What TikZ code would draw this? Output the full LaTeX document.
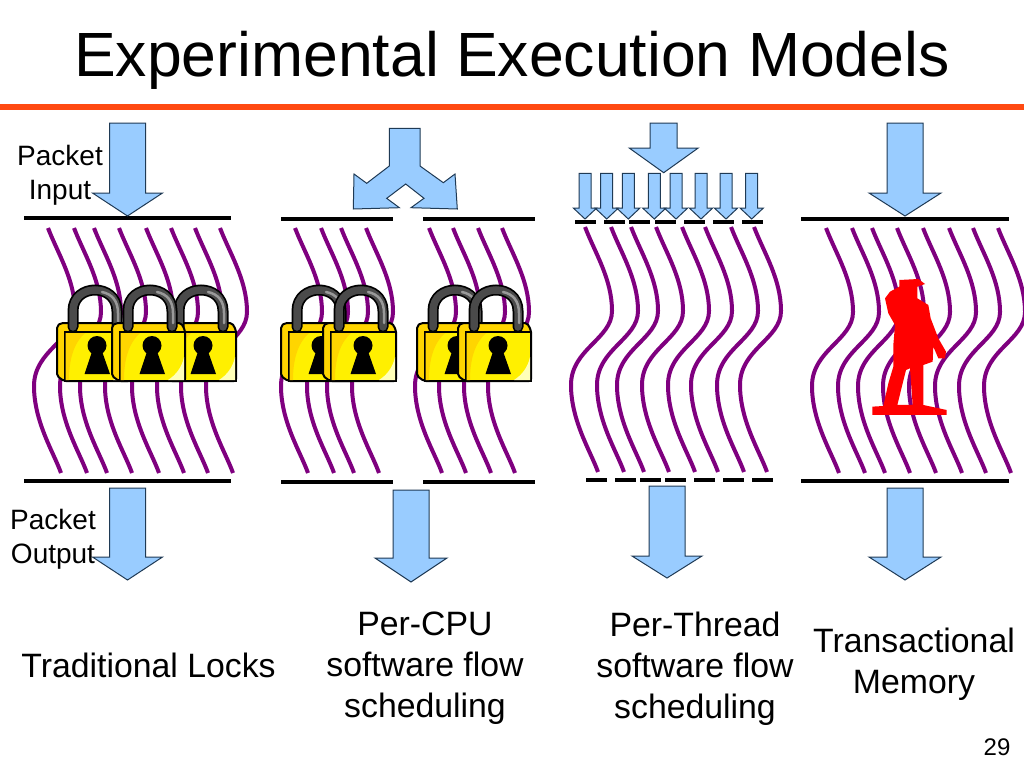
\documentclass[tikz,border=0pt]{standalone}
\usepackage{fontspec}
\setmainfont{Liberation Sans}
\usepackage{xcolor}
\definecolor{ModelPurple}{HTML}{7F007F}
\definecolor{ModelSky}{HTML}{99CCFF}
\definecolor{ModelEdge}{HTML}{1F3A55}
\definecolor{ModelOrange}{HTML}{FF4A12}
\definecolor{LockGold}{HTML}{FFD500}
\definecolor{LockYellow}{HTML}{FFF000}
\definecolor{LockCream}{HTML}{FFFFB8}
\definecolor{LockSteel}{HTML}{4A4A4A}
\usepackage{tikz}
\usetikzlibrary{positioning,calc}
\tikzset{
  mtitle/.style={inner sep=0pt,font=\fontsize{62.5}{72}\selectfont},
  mlabel/.style={inner sep=0pt,align=center,font=\fontsize{33.8}{41}\selectfont},
  mpacket/.style={inner sep=0pt,align=center,font=\fontsize{28}{34}\selectfont},
  mpage/.style={inner sep=0pt,font=\fontsize{24}{28}\selectfont},
  mbar/.style={draw=black,line width=4pt},
  mstrand/.style={draw=ModelPurple,line width=4pt},
  marrow/.style={draw=ModelEdge,fill=ModelSky,line width=1pt,line join=miter},
  strand/.pic={
    \draw[mstrand] (0,0) .. controls (10,26) and (27,52) .. (27,84)
      .. controls (27,112) and (-14,122) .. (-14,158)
      .. controls (-14,194) and (6,225) .. (13,245);
  },
  padlock/.pic={
    \draw[black,line width=2pt,fill=LockGold,rounded corners=2pt] (0,3) -- (4,0) -- (69,0) -- (73,7) -- (73,58) -- (7,58) -- (0,53) -- cycle;
    \draw[black,line width=2pt,fill=LockYellow] (7.5,9) rectangle (73,58);
    \fill[LockGold] (8.5,10) -- (28,10) .. controls (17,20) and (12,36) .. (12,57) -- (8.5,57) -- cycle;
    \fill[LockCream] (72,34) .. controls (70,44) and (64,52) .. (56,57) -- (72,57) -- cycle;
    \fill[black] (40,22.5) circle[radius=9.5];
    \fill[black] (36.5,24) -- (43.5,24) -- (53,51) -- (27.5,51) -- cycle;
    \draw[black,line width=11pt,line cap=round] (16,4) -- (16,-12) .. controls (16,-40) and (60,-40) .. (60,-12) -- (60,4);
    \draw[LockSteel,line width=7.5pt,line cap=round] (16,4) -- (16,-12) .. controls (16,-40) and (60,-40) .. (60,-12) -- (60,4);
    \draw[gray!80,line width=2.5pt,line cap=round] (45,-31) .. controls (55,-29) and (61,-22) .. (61,-10) -- (61,0);
  }
}
\newcommand{\blockdown}[6]{
  \draw[marrow] (#1-#5,#2) -- (#1+#5,#2) -- (#1+#5,#3) -- (#1+#6,#3) -- (#1,#4) -- (#1-#6,#3) -- (#1-#5,#3) -- cycle;
}
\begin{document}
\begin{tikzpicture}[x=1pt,y=-1pt]
  \useasboundingbox (0,0) rectangle (1024,768);
  \node[mtitle] (title) at (512,60) {Experimental Execution Models};
  \fill[ModelOrange] (0,104.3) rectangle (1024,110);

  \foreach \tx in {48,74,94,119,146,171,195,220,295,321,341,366,429,453,478,502,826,852,872,897,923,949,973,998}
    \pic at (\tx,228) {strand};
  \foreach \tx in {585,611,631,656,682,705,731,754}
    \pic at (\tx,227) {strand};

  \foreach \lx in {57,163,112,281,323,417,458}
    \pic at (\lx,323) {padlock};

  \begin{scope}[shift={(860,270)},scale=0.3333]
    \fill[red,even odd rule] (118,30) -- (175,27) -- (195,42) -- (172,50) -- (172,85) -- (205,105) -- (212,145) -- (235,205) -- (258,245)
      -- (255,265) -- (235,265) -- (220,230) -- (218,275) -- (190,285) -- (190,405) -- (260,420) -- (260,435) -- (37,435)
      -- (37,410) -- (70,408) -- (85,340) -- (100,290) -- (100,225) -- (105,165) -- (85,130) -- (75,85) -- (90,65) -- (118,50) -- cycle
      (158,405) -- (150,295) -- (138,300) -- (112,405) -- cycle;
  \end{scope}

  \foreach \xa/\xb/\ya in {24/231/218,24/231/481,281/393/219,423/535/219,281/393/482,423/535/482,801/1009/218.5,801/1009/481}
    \draw[mbar] (\xa,\ya) -- (\xb,\ya);
  \foreach \xa in {575,604,629,655,684,713,742}
    \draw[mbar] (\xa,222) -- (\xa+21,222);
  \foreach \xa in {586,615,640,665,694,723,752}
    \draw[mbar] (\xa,479.5) -- (\xa+21,479.5);

  \blockdown{127.5}{123}{193}{216}{18}{35}
  \blockdown{127.5}{488}{557}{580}{18}{35}
  \blockdown{411}{490}{558}{582}{18}{36}
  \blockdown{905}{123}{193}{216}{18}{36}
  \blockdown{667}{486}{556}{578}{18}{35}
  \blockdown{905}{488}{557}{580}{18}{36}
  \blockdown{663.7}{123}{148}{172.7}{13.5}{34.5}
  \foreach \ax in {585,606.7,628.3,654.3,676,701,726,751.7}{
    \blockdown{\ax}{173.3}{208}{219}{6}{11.7}
  }

  \draw[marrow] (389.3,128.3) -- (420,128.3) -- (420,166) -- (443.3,182.7) -- (455,174) -- (457.3,209) -- (411,207.7)
    -- (424,198.3) -- (405.7,184) -- (386.7,198.3) -- (399.3,207.7) -- (353.3,209) -- (354,174) -- (366.7,183.3) -- (389.3,166) -- cycle;

  \node[mpacket] (packetin) at (60,175) {Packet\\Input};
  \node[mpacket] (packetout) at (53,539) {Packet\\Output};
  \node[mlabel] (locks) at (148.5,665.5) {Traditional Locks};
  \node[mlabel] (percpu) at (425,668.5) {Per-CPU\\software flow\\scheduling};
  \node[mlabel] (perthread) at (695,668.5) {Per-Thread\\software flow\\scheduling};
  \node[mlabel] (memory) at (914,664) {Transactional\\Memory};
  \node[mpage] (pagenum) at (997,747) {29};
\end{tikzpicture}
\end{document}
